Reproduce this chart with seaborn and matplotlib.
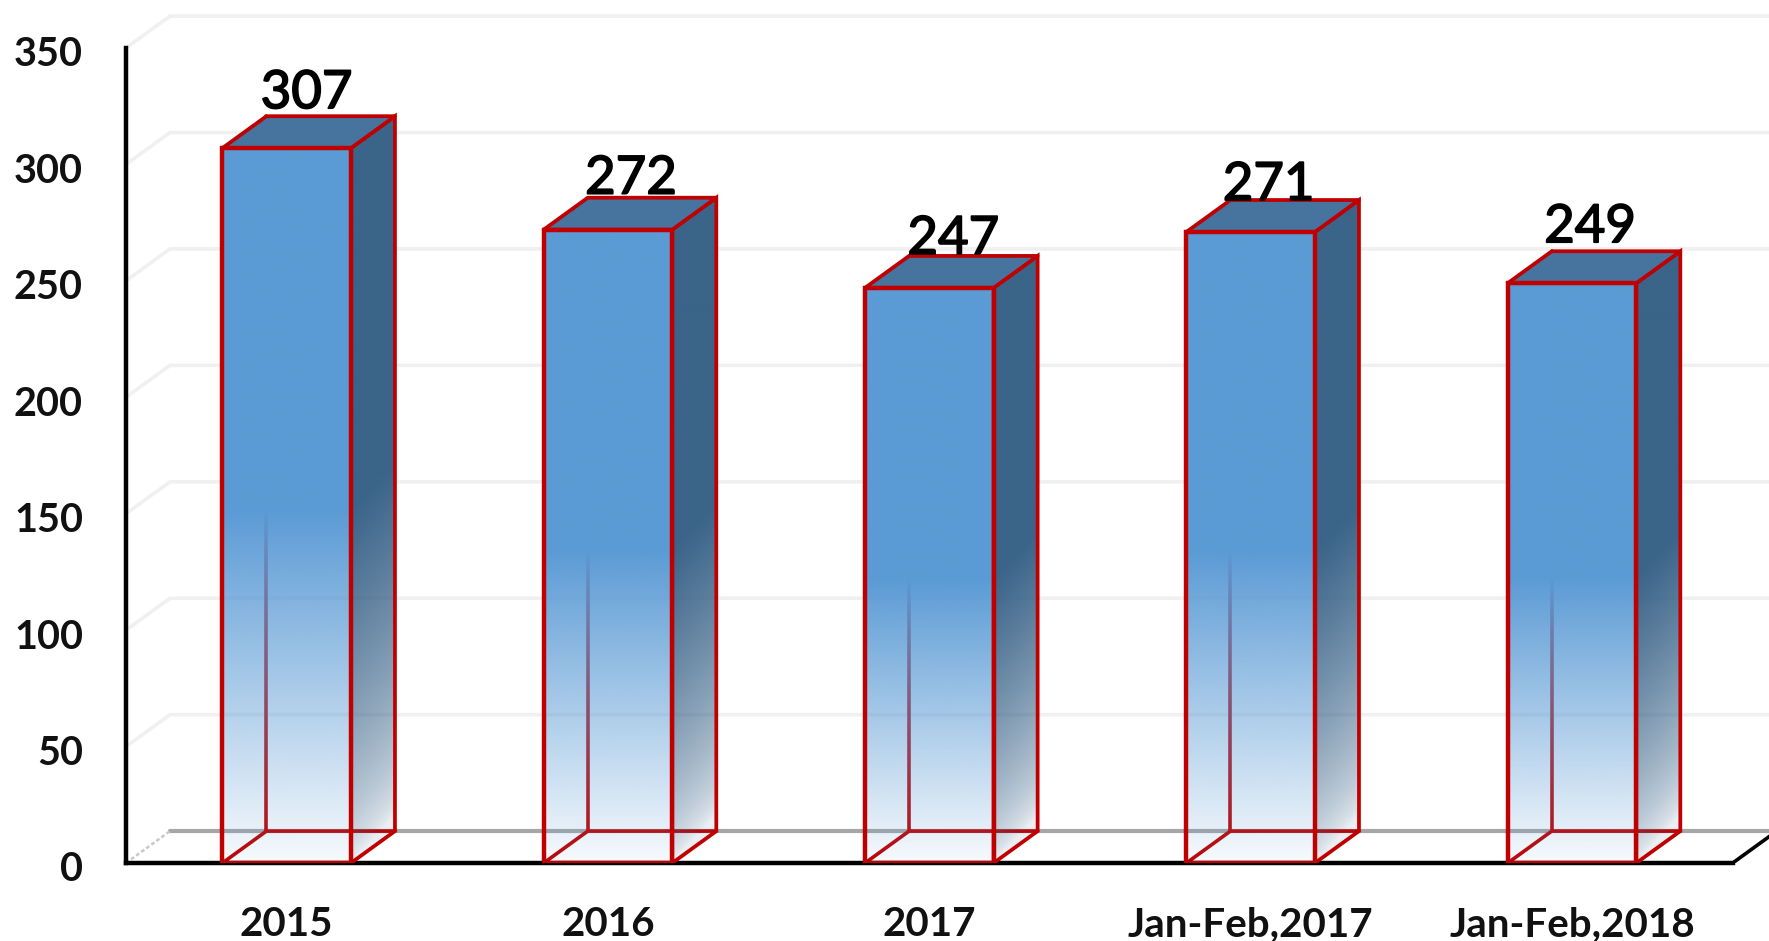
import numpy as np
import pandas as pd
import matplotlib
matplotlib.use("Agg")
import matplotlib.pyplot as plt
import matplotlib.patheffects as pe
from matplotlib.patches import Polygon
from matplotlib.transforms import ScaledTranslation
import seaborn as sns

categories = ["2015", "2016", "2017", "Jan-Feb,2017", "Jan-Feb,2018"]
values = [307, 272, 247, 271, 249]
y_ticks = [0, 50, 100, 150, 200, 250, 300, 350]

sns.set_theme(style="white")
plt.rcParams["font.family"] = ["Lato", "DejaVu Sans"]

RED = "#C00000"
FRONT = (0x5B / 255, 0x9B / 255, 0xD5 / 255)
SIDE = (0x3B / 255, 0x64 / 255, 0x89 / 255)
TOP = "#46749F"
GRID = "#F0F0F0"
BAR_W = 0.4
DX = 0.137          # depth of the 3-D effect, in category units
DY = 13.7           # depth of the 3-D effect, in value units
XLIM = (-0.5, 4.613)
YLIM = (0, 370.6)

fig = plt.figure(figsize=(17.69, 9.41), dpi=100, facecolor="white")
ax = fig.add_axes([126 / 1769, 78 / 941, 1 - 126 / 1769, 1 - 78 / 941])

df = pd.DataFrame({"category": categories, "value": values})
sns.barplot(data=df, x="category", y="value", order=categories, width=BAR_W,
            color="#5B9BD5", saturation=1, ax=ax, zorder=6)
bars = list(ax.patches)

# back walls and floor
for v in y_ticks[1:]:
    ax.plot([-0.5, -0.5 + DX, XLIM[1]], [v, v + DY, v + DY], color=GRID, lw=2.6,
            zorder=1, solid_joinstyle="miter")
ax.plot([-0.5 + DX, XLIM[1]], [DY, DY], color="#A6A6A6", lw=3.0, zorder=1.5)
ax.plot([-0.5, -0.5 + DX], [0, DY], color="#C8C8C8", lw=1.8, ls=(0, (1.5, 1)), zorder=1.5)
ax.plot([4.5, 4.5 + DX], [0, DY], color="black", lw=2.6, zorder=1.5)

for bar, v in zip(bars, values):
    x0 = bar.get_x()
    x1 = x0 + bar.get_width()

    # edges seen through the transparent lower part of the front
    ax.plot([x0, x0 + DX, x1 + DX], [0, DY, DY], color=RED, lw=2.6, zorder=2)
    ax.plot([x0 + DX, x0 + DX], [DY, v + DY], color=RED, lw=2.6, zorder=2)

    # front face gradient, clipped to the seaborn bar
    ys = np.linspace(0, v, 300)[:, None]
    t = np.clip(ys / (0.49 * v), 0, 1)
    rgba = np.ones((300, 2, 4))
    rgba[..., :3] = FRONT
    rgba[..., 3] = (0.05 + 0.95 * t) * np.ones((300, 2))
    im = ax.imshow(rgba, extent=(x0, x1, 0, v), origin="lower", aspect="auto",
                   interpolation="bilinear", zorder=4)
    bar.set_facecolor("none")
    bar.set_edgecolor(RED)
    bar.set_linewidth(3.2)
    im.set_clip_path(bar)

    # side face with a diagonal gradient
    u, yy = np.meshgrid(np.linspace(0, 1, 60), np.linspace(0, v + DY, 300))
    t = np.clip((yy - 1.5 * DY * u) / (0.49 * v), 0, 1)
    rgba = np.ones((300, 60, 4))
    rgba[..., :3] = SIDE
    rgba[..., 3] = 0.1 + 0.9 * t ** 0.65
    side = Polygon([(x1, 0), (x1 + DX, DY), (x1 + DX, v + DY), (x1, v)], closed=True,
                   facecolor="none", edgecolor=RED, lw=2.7, zorder=5)
    ax.add_patch(side)
    im2 = ax.imshow(rgba, extent=(x1, x1 + DX, 0, v + DY), origin="lower", aspect="auto",
                    interpolation="bilinear", zorder=4)
    im2.set_clip_path(side)

    # top face
    ax.add_patch(Polygon([(x0, v), (x0 + DX, v + DY), (x1 + DX, v + DY), (x1, v)], closed=True,
                         facecolor=TOP, edgecolor=RED, lw=2.7, zorder=5,
                         joinstyle="round"))

# value labels
label_dx = [20, 23, 24, 18, 18]
label_dy = [8, 4, 2, 0, 9]
for i, v in enumerate(values):
    ax.annotate(str(v), (i, v + DY),
                xytext=(label_dx[i] * 0.72, label_dy[i] * 0.72), textcoords="offset points",
                ha="center", va="baseline", fontsize=38, color="black", zorder=8,
                path_effects=[pe.withStroke(linewidth=1.2, foreground="black")])

ax.set_xlim(*XLIM)
ax.set_ylim(*YLIM)
ax.set_xlabel("")
ax.set_ylabel("")
ax.set_yticks(y_ticks)
ax.set_yticklabels([str(t) for t in y_ticks])
ax.set_xticks(range(len(categories)))
ax.set_xticklabels(categories)
ax.tick_params(axis="y", length=0, pad=31, labelsize=28.5, labelcolor="#111111")
ax.tick_params(axis="x", length=0, pad=31, labelsize=29, labelcolor="#111111")
shift = ScaledTranslation(0, -2.5 / 72, fig.dpi_scale_trans)
for lab in ax.get_yticklabels():
    lab.set_transform(lab.get_transform() + shift)
for lab in ax.get_xticklabels() + ax.get_yticklabels():
    lab.set_fontweight("bold")
ax.patch.set_alpha(0)
ax.grid(False)
for name in ("top", "right"):
    ax.spines[name].set_visible(False)
ax.spines["left"].set_bounds(0, 350)
ax.spines["bottom"].set_bounds(-0.5, 4.5)
for name in ("left", "bottom"):
    ax.spines[name].set_color("black")
    ax.spines[name].set_linewidth(3.2)
    ax.spines[name].set_zorder(3)
    ax.spines[name].set_clip_on(False)

fig.savefig("out.png", dpi=100)
